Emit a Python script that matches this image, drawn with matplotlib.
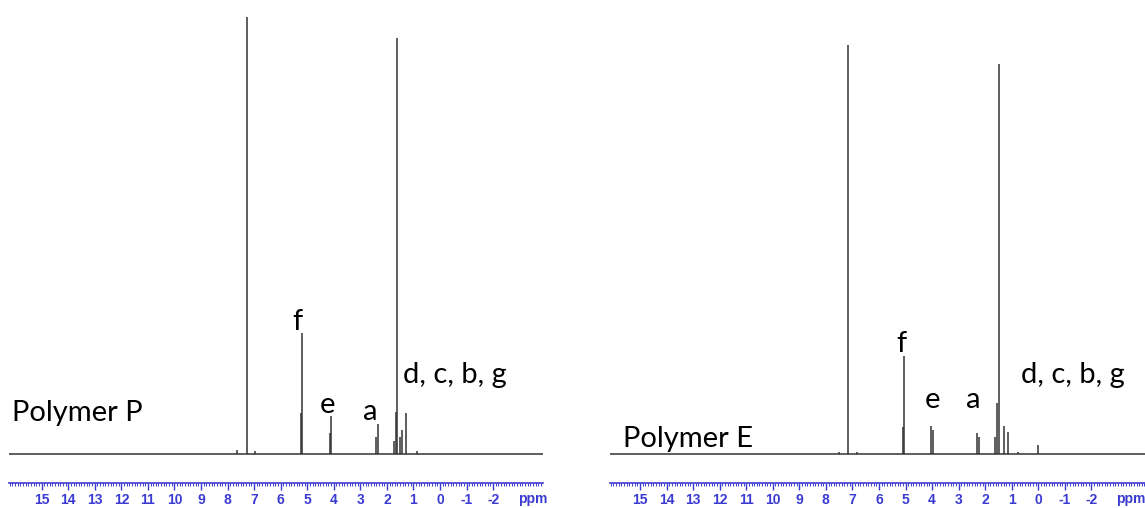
import matplotlib.pyplot as plt
import matplotlib.transforms as mtransforms
from matplotlib.ticker import MultipleLocator, FixedLocator

plt.rcParams['axes.unicode_minus'] = False

# peak positions (ppm) and heights (same arbitrary scale, CDCl3 of P = 100)
p_ppm = [7.66, 7.28, 6.97, 5.24, 5.21, 4.13, 4.10, 2.40, 2.35,
         1.72, 1.64, 1.60, 1.52, 1.44, 1.28, 0.88]
p_int = [0.9, 100, 0.7, 9.4, 27.7, 4.8, 8.7, 4.0, 6.9,
         3.0, 9.6, 95.2, 4.0, 5.5, 9.4, 0.6]

e_ppm = [7.50, 7.18, 6.84, 5.09, 5.06, 4.04, 3.97, 2.30, 2.22,
         1.62, 1.57, 1.48, 1.29, 1.13, 0.75, 0.0]
e_int = [0.5, 93.6, 0.5, 6.2, 22.4, 6.4, 5.5, 4.8, 4.0,
         4.0, 11.7, 89.2, 6.4, 5.0, 0.5, 2.1]

tick_vals = list(range(-2, 16))

# labels: (text, ppm, height, ha)
p_labels = [("f", 5.35, 28.4, "center"), ("e", 4.22, 9.4, "center"),
            ("a", 2.61, 7.8, "center"), ("d, c, b, g", 1.39, 16.2, "left"),
            ("Polymer P", 16.12, 7.6, "left")]
e_labels = [("f", 5.14, 23.3, "center"), ("e", 3.97, 10.5, "center"),
            ("a", 2.46, 10.5, "center"), ("d, c, b, g", 0.66, 16.2, "left"),
            ("Polymer E", 15.64, 1.6, "left")]

W, H = 1145, 508
fig = plt.figure(figsize=(W / 100, H / 100), dpi=100)

blue = '#3b3bd2'
line_c = '#333333'


def panel(rect, xlim, ppm, inten, labels):
    ax = fig.add_axes(rect)
    ax.set_xlim(*xlim)
    ax.set_ylim(-6.64, 103.9)
    ax.axhline(0, color=line_c, lw=1.1)
    ax.vlines(ppm, 0, inten, color=line_c, lw=1.1)
    for s in ['top', 'left', 'right']:
        ax.spines[s].set_visible(False)
    ax.spines['bottom'].set_color(blue)
    ax.spines['bottom'].set_linewidth(1.2)
    ax.set_yticks([])
    ax.xaxis.set_major_locator(FixedLocator(tick_vals))
    ax.xaxis.set_minor_locator(MultipleLocator(0.1))
    ax.tick_params(axis='x', which='major', length=5, width=1, color=blue,
                   labelcolor=blue, labelsize=10, pad=2.5)
    ax.tick_params(axis='x', which='minor', length=2.5, width=0.7, color=blue)
    for lab in ax.get_xticklabels():
        lab.set_fontweight('bold')
        lab.set_fontfamily('Liberation Sans')
    trans = mtransforms.blended_transform_factory(ax.transData, ax.transAxes)
    ax.annotate('ppm', xy=(-3.5, 0), xycoords=trans, xytext=(0, -16 * 0.72),
                textcoords='offset points', ha='center', va='center',
                color=blue, fontsize=10, fontweight='bold',
                family='Liberation Sans')
    for txt, x, y, ha in labels:
        ax.text(x, y, txt, ha=ha, va='baseline', fontsize=21,
                family='Lato', color='black')
    return ax


panel([9 / W, 25 / H, 534 / W, 483 / H], (16.23, -3.88), p_ppm, p_int, p_labels)
panel([610 / W, 25 / H, 535 / W, 483 / H], (16.13, -4.02), e_ppm, e_int, e_labels)

fig.savefig('out.png', dpi=100)
